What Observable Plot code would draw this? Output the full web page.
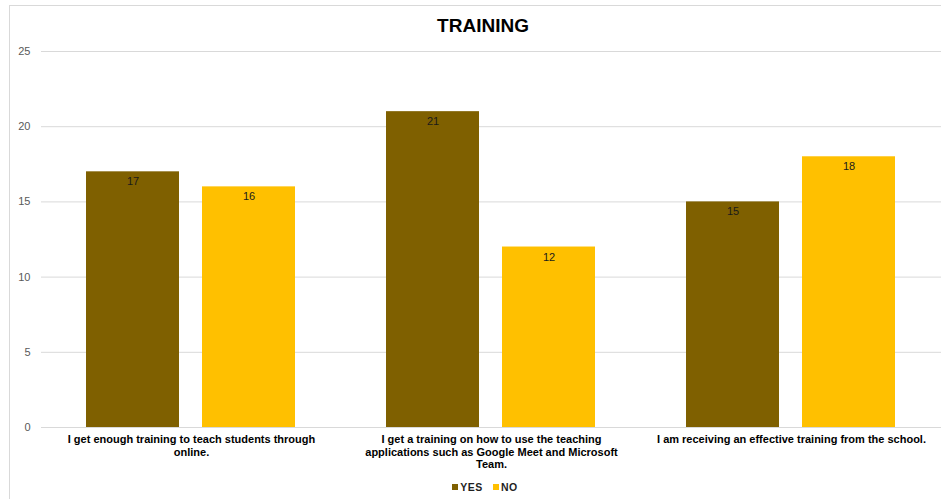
<!DOCTYPE html>
<html>
<head>
<meta charset="utf-8">
<script src="https://cdn.jsdelivr.net/npm/d3@7"></script>
<script src="https://cdn.jsdelivr.net/npm/@observablehq/plot@0.6"></script>
<style>
  html, body { margin: 0; padding: 0; background: #fff; }
  #wrap { position: relative; width: 941px; height: 499px; overflow: hidden; font-family: "Liberation Sans", Arial, sans-serif; }
  #frame { position: absolute; left: 9px; top: 5px; width: 940px; height: 500px; border-top: 1px solid #d9d9d9; border-left: 1px solid #d9d9d9; }
  #title { position: absolute; left: 0; width: 966px; top: 15px; text-align: center; font-size: 19px; font-weight: bold; color: #000; }
  #chart { position: absolute; left: 0; top: 0; }
  #legend { position: absolute; left: 0; width: 970px; top: 481px; text-align: center; font-size: 10.5px; font-weight: bold; color: #1f1f1f; letter-spacing: 0.5px; }
  #legend span.sw { display: inline-block; width: 6px; height: 6px; margin-right: 2px; vertical-align: 1px; }
  #legend span.item { margin: 0 5px; }
</style>
</head>
<body>
<div id="wrap">
  <div id="frame"></div>
  <div id="chart"></div>
  <div id="title"></div>
  <div id="legend"></div>
</div>
<script>
const chartTitle = "TRAINING";
const categories = [
  "I get enough training to teach students through online.",
  "I get a training on how to use the teaching applications such as Google Meet and Microsoft Team.",
  "I am receiving an effective training from the school."
];
const categoryLines = [
  ["I get enough training to teach students through", "online."],
  ["I get a training on how to use the teaching", "applications such as Google Meet and Microsoft", "Team."],
  ["I am receiving an effective training from the school."]
];
const series = ["YES", "NO"];
const seriesColors = ["#7F6000", "#FFC000"];
const yesValues = [17, 21, 15];
const noValues = [16, 12, 18];
const yTicks = [0, 5, 10, 15, 20, 25];

const data = categories.flatMap((c, i) => [
  {cat: c, s: "YES", v: yesValues[i]},
  {cat: c, s: "NO", v: noValues[i]}
]);
const labelOf = new Map(categories.map((c, i) => [c, categoryLines[i].join("\n")]));

const chart = Plot.plot({
  width: 941,
  height: 499,
  marginTop: 51,
  marginBottom: 72,
  marginLeft: 41,
  marginRight: 0,
  style: {fontFamily: '"Liberation Sans", Arial, sans-serif', background: "transparent"},
  fx: {domain: categories, padding: 0, axis: null, label: null},
  x: {domain: series, paddingInner: 0.198, paddingOuter: 0.392, axis: null, label: null},
  y: {domain: [0, 25], axis: null, label: null},
  color: {domain: series, range: seriesColors},
  marks: [
    Plot.ruleY(yTicks, {stroke: "#d9d9d9", strokeWidth: 1}),
    Plot.barY(data, {fx: "cat", x: "s", y: "v", fill: "s"}),
    Plot.text(data, {fx: "cat", x: "s", y: "v", text: d => String(d.v), dy: 10, fontSize: 11, fill: "#1a1a1a"}),
    Plot.axisY({ticks: yTicks, tickSize: 0, tickPadding: 11, fontSize: 11, fill: "#595959", label: null}),
    Plot.axisFx({anchor: "bottom", tickSize: 0, tickPadding: 7, fontSize: 11, fontWeight: "bold", fill: "#000", lineHeight: 1.12, label: null, tickFormat: d => labelOf.get(d)})
  ]
});
document.getElementById("chart").appendChild(chart);
document.getElementById("title").textContent = chartTitle;
const legend = document.getElementById("legend");
series.forEach((s, i) => {
  const item = document.createElement("span");
  item.className = "item";
  const sw = document.createElement("span");
  sw.className = "sw";
  sw.style.background = seriesColors[i];
  item.appendChild(sw);
  item.appendChild(document.createTextNode(s));
  legend.appendChild(item);
});
</script>
</body>
</html>
